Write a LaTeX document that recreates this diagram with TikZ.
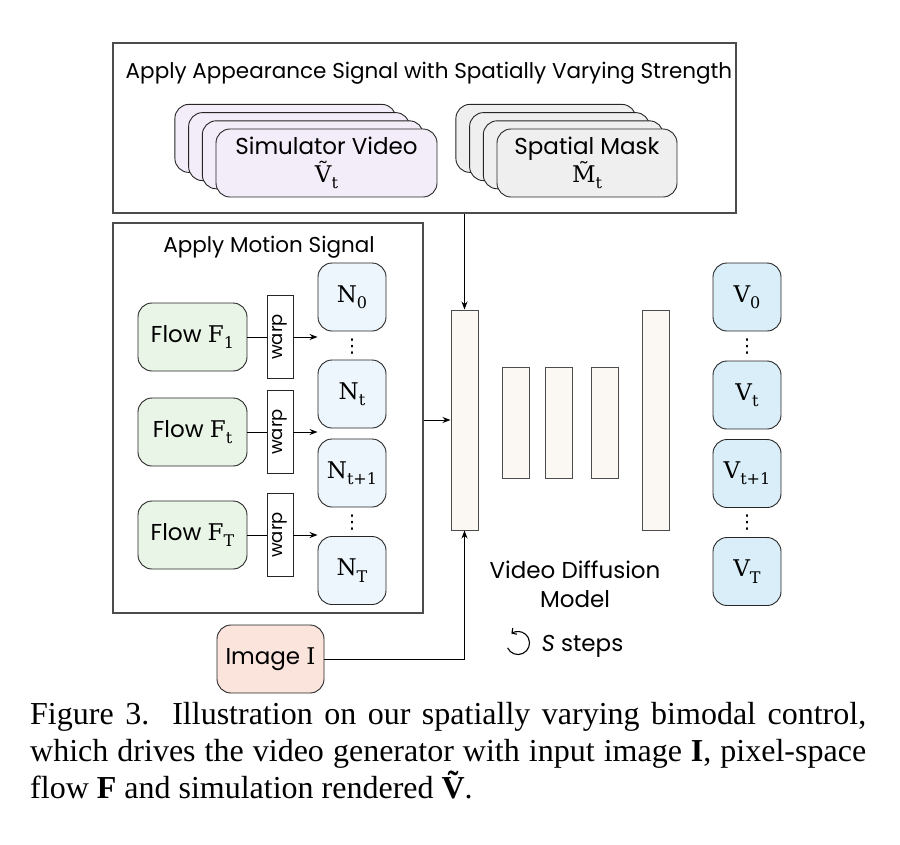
\documentclass[tikz,border=0pt]{standalone}
\usepackage{fontspec}
\setmainfont{Poppins}
\newfontfamily\captionfont{Liberation Serif}
\newfontfamily\letterfont{DejaVu Serif}
\newfontfamily\symbolfont{DejaVu Sans}
\usetikzlibrary{positioning,arrows.meta}
\definecolor{simfill}{HTML}{F3ECF9}
\definecolor{maskfill}{HTML}{EFEFEF}
\definecolor{flowfill}{HTML}{E9F5E6}
\definecolor{nfill}{HTML}{EEF6FD}
\definecolor{vfill}{HTML}{D9EEF8}
\definecolor{imgfill}{HTML}{FBE4DB}
\definecolor{barfill}{HTML}{FBF7F3}
% serif letter with a subscript, as in the labels
\newcommand{\idx}[2]{{\letterfont #1\raisebox{-0.28em}{\fontsize{16}{16}\selectfont #2}}}
\begin{document}
\begin{tikzpicture}[x=1pt,y=-1pt,
    every node/.style={font=\fontsize{23}{29}\selectfont},
    heading/.style={anchor=base,font=\fontsize{21.5}{26}\selectfont},
    frame/.style={draw=black!70,line width=1.1pt},
    card/.style={draw=black!85,line width=0.9pt,rounded corners=14pt},
    flowbox/.style={card,fill=flowfill,minimum width=109pt,minimum height=68pt},
    warpbox/.style={draw=black!85,line width=0.9pt,fill=white,rotate=90,
        minimum width=83pt,minimum height=26pt,inner sep=0pt,font=\fontsize{18}{22}\selectfont},
    nbox/.style={card,fill=nfill,minimum width=68pt,minimum height=68pt},
    vbox/.style={card,fill=vfill,minimum width=68pt,minimum height=68pt},
    dots/.style={inner sep=0pt,font=\symbolfont\fontsize{19}{19}\selectfont},
    bar/.style={draw=black!70,line width=1pt,fill=barfill,minimum width=27pt},
    arr/.style={-{Stealth[length=8pt,width=6pt]},line width=1pt}]
    \useasboundingbox (0,0) rectangle (900,844);

    % appearance signal
    \node[frame,minimum width=623pt,minimum height=170pt] (app) at (424.5,128) {};
    \node[heading] (apptitle) at (429,78) {Apply Appearance Signal with Spatially Varying Strength};
    \foreach \i in {3,2,1} {
        \node[card,fill=simfill,minimum width=221pt,minimum height=68pt] (sim\i) at ({326.5-13.7*\i},{163-8.2*\i}) {};
        \node[card,fill=maskfill,minimum width=180pt,minimum height=68pt] (mask\i) at ({587-13.7*\i},{163-8.2*\i}) {};
    }
    \node[card,fill=simfill,minimum width=221pt,minimum height=68pt,align=center] (sim0) at (326.5,163)
        {Simulator Video\\[-1pt]\idx{\~V}{t}};
    \node[card,fill=maskfill,minimum width=180pt,minimum height=68pt,align=center] (mask0) at (587,163)
        {Spatial Mask\\[-1pt]\idx{\~M}{t}};

    % motion signal
    \node[frame,minimum width=310pt,minimum height=390pt] (mot) at (268,418) {};
    \node[heading] (mottitle) at (269,252) {Apply Motion Signal};
    \node[flowbox] (f1) at (192.5,337) {Flow \idx{F}{1}};
    \node[flowbox] (ft) at (192.5,432) {Flow \idx{F}{t}};
    \node[flowbox] (fT) at (192.5,535) {Flow \idx{F}{T}};
    \foreach \f in {1,t,T}
        \node[warpbox] (w\f) at (280,0 |- f\f) {warp};

    \node[nbox] (n0) at (352,297) {\idx{N}{0}};
    \node[nbox] (nt) at (352,394) {\idx{N}{t}};
    \node[nbox] (nt1) at (352,473) {\idx{N}{t+1}};
    \node[nbox] (nT) at (352,570.5) {\idx{N}{T}};
    \node[dots] (ndots1) at (352,347) {⋮};
    \node[dots] (ndots2) at (352,523) {⋮};

    \foreach \f in {1,t,T} {
        \draw[line width=1pt] (f\f.east) -- (w\f.north);
        \draw[arr] (w\f.south) -- (w\f.south -| n0.west);
    }

    % diffusion model
    \node[bar,minimum height=220pt] (enc) at (464.5,420) {};
    \node[bar,minimum height=111pt] (mid1) at (516,422.5) {};
    \node[bar,minimum height=111pt] (mid2) at (559,422.5) {};
    \node[bar,minimum height=111pt] (mid3) at (605,422.5) {};
    \node[bar,minimum height=220pt] (dec) at (655.5,420) {};
    \node[align=center,anchor=north] (vdm) at (575,557) {Video Diffusion\\Model};
    \coordinate (loop) at (518,643);
    \draw[line width=1.1pt,-{Straight Barb[length=3.5pt,width=7.5pt]}]
        (loop) ++(-205:11.5) arc[start angle=-205,end angle=-485,radius=11.5];
    \node[anchor=base west] (steps) at (538,651) {\textit{S} steps};

    % outputs
    \node[vbox] (v0) at (747,297) {\idx{V}{0}};
    \node[vbox] (vt) at (747,395) {\idx{V}{t}};
    \node[vbox] (vt1) at (747,473.5) {\idx{V}{t+1}};
    \node[vbox] (vT) at (747,571.5) {\idx{V}{T}};
    \node[dots] (vdots1) at (747,347) {⋮};
    \node[dots] (vdots2) at (747,523) {⋮};

    % image
    \node[card,fill=imgfill,minimum width=107pt,minimum height=68pt] (img) at (270.5,659) {Image {\letterfont I}};

    \draw[arr] (app.south -| enc.north) -- (enc.north);
    \draw[arr] (mot.east |- enc.west) -- (enc.west);
    \draw[arr] (img.east) -| (enc.south);

    % caption
    \node[anchor=north west,text width=836pt,align=justify,inner sep=0pt,
        font=\captionfont\fontsize{32}{37}\selectfont] (cap) at (30,702)
        {Figure 3.\ \ Illustration on our spatially varying bimodal control,\linebreak
        which drives the video generator with input image \textbf{I}, pixel-space\linebreak
        flow \textbf{F} and simulation rendered \textbf{\~V}.};
\end{tikzpicture}
\end{document}
